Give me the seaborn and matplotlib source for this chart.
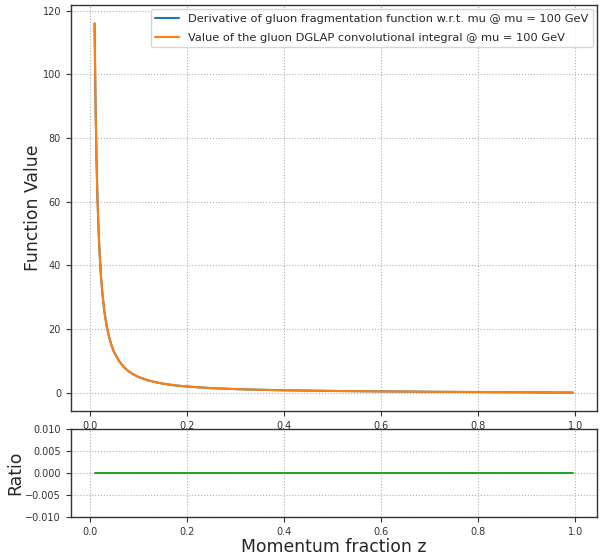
import matplotlib
matplotlib.use("Agg")
import matplotlib.pyplot as plt
import matplotlib.ticker as mticker
import seaborn as sns
import pandas as pd

# Momentum fraction grid
z = [0.01, 0.012, 0.014, 0.016, 0.018, 0.02, 0.023, 0.026, 0.03, 0.035,
     0.04, 0.045, 0.05, 0.06, 0.07, 0.08, 0.09, 0.10, 0.12, 0.14,
     0.16, 0.18, 0.20, 0.25, 0.30, 0.35, 0.40, 0.50, 0.60, 0.70,
     0.80, 0.90, 0.95, 0.995]

# d D_g / d ln mu at mu = 100 GeV
derivative = [116.0, 90.3, 73.1, 60.9, 51.8, 44.9, 37.0, 31.3, 25.7, 20.8,
              17.4, 14.8, 12.8, 10.0, 8.06, 6.72, 5.71, 4.94, 3.85, 3.12,
              2.60, 2.21, 1.91, 1.41, 1.10, 0.89, 0.74, 0.52, 0.38, 0.27,
              0.17, 0.09, 0.05, 0.01]

# DGLAP convolutional integral at mu = 100 GeV
integral = [116.0, 90.3, 73.1, 60.9, 51.8, 44.9, 37.0, 31.3, 25.7, 20.8,
            17.4, 14.8, 12.8, 10.0, 8.06, 6.72, 5.71, 4.94, 3.85, 3.12,
            2.60, 2.21, 1.91, 1.41, 1.10, 0.89, 0.74, 0.52, 0.38, 0.27,
            0.17, 0.09, 0.05, 0.01]

# Relative deviation between the two
ratio = [0.0] * len(z)

labels = ["Derivative of gluon fragmentation function w.r.t. mu @ mu = 100 GeV",
          "Value of the gluon DGLAP convolutional integral @ mu = 100 GeV"]

x_ticks = [0.0, 0.2, 0.4, 0.6, 0.8, 1.0]
top_yticks = [0, 20, 40, 60, 80, 100, 120]
ratio_yticks = [-0.010, -0.005, 0.000, 0.005, 0.010]

sns.set_style("ticks", {"axes.grid": True, "grid.linestyle": ":",
                        "grid.color": "#b0b0b0", "axes.edgecolor": "#333333",
                        "xtick.color": "#333333", "ytick.color": "#333333"})
plt.rcParams["font.family"] = ["DejaVu Sans"]
plt.rcParams["xtick.labelsize"] = 7
plt.rcParams["ytick.labelsize"] = 7
plt.rcParams["xtick.direction"] = "out"
plt.rcParams["ytick.direction"] = "out"
plt.rcParams["xtick.major.size"] = 3.5
plt.rcParams["ytick.major.size"] = 3.5
plt.rcParams["xtick.major.pad"] = 3.5
plt.rcParams["ytick.major.pad"] = 3.5

fig = plt.figure(figsize=(6.05, 5.57), dpi=100)
ax1 = fig.add_axes([0.117, 0.262, 0.870, 0.729])
ax2 = fig.add_axes([0.117, 0.0713, 0.870, 0.1585])

df = pd.DataFrame({"z": z, "derivative": derivative, "integral": integral, "ratio": ratio})

sns.lineplot(data=df, x="z", y="derivative", ax=ax1, color="#1f77b4", lw=1.5, label=labels[0])
sns.lineplot(data=df, x="z", y="integral", ax=ax1, color="#ff7f0e", lw=1.5, label=labels[1])
sns.lineplot(data=df, x="z", y="ratio", ax=ax2, color="#2ca02c", lw=1.5)

ax1.set_xlim(-0.039, 1.045)
ax1.set_ylim(-5.8, 121.8)
ax1.set_xticks(x_ticks)
ax1.set_yticks(top_yticks)
ax1.set_xlabel("")
ax1.set_ylabel("Function Value", fontsize=12.4, labelpad=0.5)
ax1.legend(loc="upper right", fontsize=8.2, frameon=True, framealpha=0.8,
           edgecolor="#cccccc", fancybox=True, borderaxespad=0.35,
           labelspacing=0.8, handlelength=2.1)

ax2.set_xlim(-0.039, 1.045)
ax2.set_ylim(-0.01, 0.01)
ax2.set_xticks(x_ticks)
ax2.set_yticks(ratio_yticks)
ax2.yaxis.set_major_formatter(mticker.FuncFormatter(
    lambda v, _: f"{v:.3f}".replace("-", "\u2212") if abs(v) > 1e-12 else "0.000"))
ax2.set_xlabel("Momentum fraction z", fontsize=12.4, labelpad=0.5)
ax2.set_ylabel("Ratio", fontsize=12.4, labelpad=0.5)

for ax in (ax1, ax2):
    for s in ax.spines.values():
        s.set_visible(True)
        s.set_linewidth(1.0)

fig.savefig("out.png", dpi=100)
